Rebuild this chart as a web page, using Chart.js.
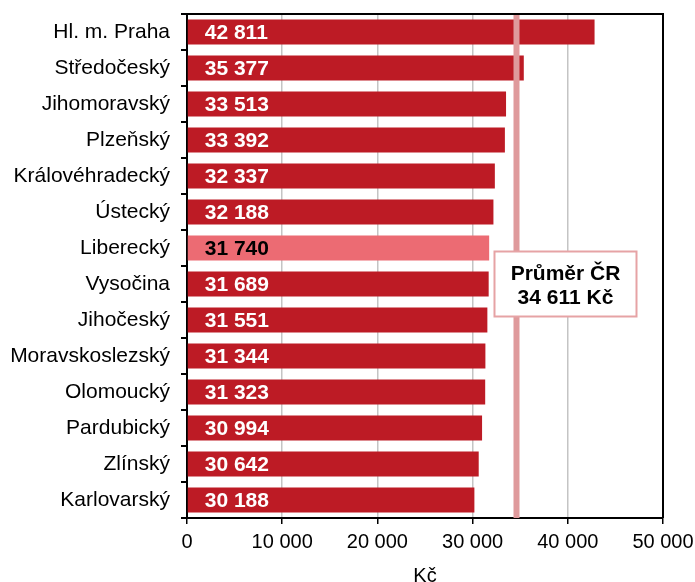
<!DOCTYPE html>
<html>
<head>
<meta charset="utf-8">
<script src="https://cdn.jsdelivr.net/npm/chart.js@4/dist/chart.umd.min.js"></script>
<style>
	body { margin: 0; background: #fff; }
	canvas { display: block; }
</style>
</head>
<body>
<canvas id="chart" width="695" height="582"></canvas>
<script>
// average wage by region, Kč
const regions = [
	'Hl. m. Praha', 'Středočeský', 'Jihomoravský', 'Plzeňský', 'Královéhradecký',
	'Ústecký', 'Liberecký', 'Vysočina', 'Jihočeský', 'Moravskoslezský',
	'Olomoucký', 'Pardubický', 'Zlínský', 'Karlovarský',
];
const wages = [ 42811, 35377, 33513, 33392, 32337, 32188, 31740, 31689, 31551, 31344, 31323, 30994, 30642, 30188 ];
const highlight = 'Liberecký';
const average = 34611;
const averageLabel = [ 'Průměr ČR', '34 611 Kč' ];
const xTicks = [ 0, 10000, 20000, 30000, 40000, 50000 ];

const FONT = 'Arial, "Liberation Sans", sans-serif';
const fmt = ( v ) => String( v ).replace( /\B(?=(\d{3})+(?!\d))/g, ' ' );

const extras = {
	id: 'extras',
	afterDatasetsDraw( chart ) {
		const { ctx, chartArea: a, scales: { x, y } } = chart;
		const meta = chart.getDatasetMeta( 0 );
		ctx.save();
		// value labels
		ctx.font = `bold 21px ${ FONT }`;
		ctx.textBaseline = 'middle';
		ctx.textAlign = 'left';
		meta.data.forEach( ( bar, i ) => {
			ctx.fillStyle = regions[ i ] === highlight ? '#000' : '#fff';
			ctx.fillText( fmt( wages[ i ] ), bar.base + 17, bar.y + 1 );
		} );
		// average line
		const ax = x.getPixelForValue( average );
		ctx.strokeStyle = '#df9a9c';
		ctx.lineWidth = 6;
		ctx.beginPath();
		ctx.moveTo( ax, a.top );
		ctx.lineTo( ax, a.bottom );
		ctx.stroke();
		// frame top + right
		ctx.strokeStyle = '#000';
		ctx.lineWidth = 2;
		ctx.beginPath();
		ctx.moveTo( a.left, a.top );
		ctx.lineTo( a.right, a.top );
		ctx.lineTo( a.right, a.bottom );
		ctx.stroke();
		// average box
		const cy = y.getPixelForValue( 7 );
		const bx = ax - 22, bw = 142, bh = 65, by = cy - bh / 2;
		ctx.fillStyle = '#fff';
		ctx.fillRect( bx, by, bw, bh );
		ctx.strokeStyle = '#e6a3a5';
		ctx.lineWidth = 2;
		ctx.strokeRect( bx, by, bw, bh );
		ctx.fillStyle = '#000';
		ctx.textAlign = 'center';
		ctx.fillText( averageLabel[ 0 ], bx + bw / 2, cy - 10 );
		ctx.fillText( averageLabel[ 1 ], bx + bw / 2, cy + 14 );
		ctx.restore();
	},
};

new Chart( document.getElementById( 'chart' ), {
	type: 'bar',
	data: {
		labels: regions,
		datasets: [ {
			data: wages,
			backgroundColor: regions.map( ( r ) => r === highlight ? '#ec6b73' : '#bd1b25' ),
			categoryPercentage: 1,
			barPercentage: 0.7,
		} ],
	},
	plugins: [ extras ],
	options: {
		indexAxis: 'y',
		responsive: false,
		animation: false,
		devicePixelRatio: 1,
		layout: { padding: { top: 14, right: 32, left: 0, bottom: 0 } },
		plugins: { legend: { display: false }, tooltip: { enabled: false } },
		scales: {
			x: {
				min: 0,
				max: 50000,
				afterBuildTicks: ( s ) => { s.ticks = xTicks.map( ( v ) => ( { value: v } ) ); },
				afterFit: ( s ) => { s.height = 64; s.paddingLeft = 0; s.paddingRight = 0; },
				ticks: {
					color: '#000',
					font: { family: FONT, size: 20 },
					padding: 6,
					maxRotation: 0,
					callback: ( v ) => fmt( v ),
				},
				grid: { color: '#c4c4c4', lineWidth: 1.5, tickColor: '#000', tickLength: 6 },
				border: { color: '#000', width: 2 },
				title: {
					display: true,
					text: 'Kč',
					color: '#000',
					font: { family: FONT, size: 20, lineHeight: 1 },
					padding: { top: 0, bottom: -4 },
				},
			},
			y: {
				afterFit: ( s ) => { s.width = 187; s.paddingTop = 0; s.paddingBottom = 0; },
				ticks: {
					color: '#000',
					font: { family: FONT, size: 21 },
					padding: 11,
				},
				grid: { drawOnChartArea: false, offset: true, tickColor: '#000', tickLength: 6, lineWidth: 2 },
				border: { color: '#000', width: 2 },
			},
		},
	},
} );
</script>
</body>
</html>
